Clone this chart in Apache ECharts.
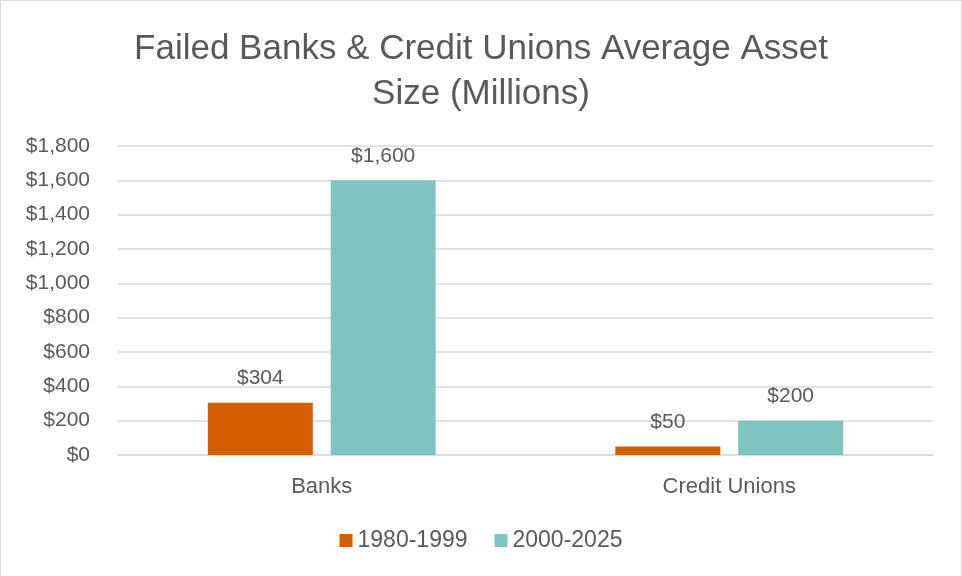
<!DOCTYPE html>
<html>
<head>
<meta charset="utf-8">
<script src="https://cdn.jsdelivr.net/npm/echarts@6/dist/echarts.min.js"></script>
<style>
  html, body { margin: 0; padding: 0; background: #fff; }
  #chart { width: 962px; height: 576px; box-sizing: border-box; border: 1px solid #d9d9d9; border-bottom: none; }
</style>
</head>
<body>
<div id="chart"></div>
<script>
// Average asset size of failed institutions, in millions of dollars
const categories = ['Banks', 'Credit Unions'];
const seriesNames = ['1980-1999', '2000-2025'];
const values1980 = [304, 50];
const values2000 = [1600, 200];
const colors = ['#D55E00', '#80C4C2'];

const money = v => '$' + Number(v).toLocaleString('en-US');
const textColor = '#595959';
const font = 'Liberation Sans, Arial, sans-serif';

const chart = echarts.init(document.getElementById('chart'), null, { renderer: 'canvas' });

const labelStyle = {
  show: true,
  position: 'top',
  distance: 14,
  color: textColor,
  fontSize: 21,
  fontFamily: font,
  formatter: p => money(p.value)
};

chart.setOption({
  animation: false,
  backgroundColor: '#fff',
  title: {
    text: 'Failed Banks & Credit Unions Average Asset\nSize (Millions)',
    left: 'center',
    top: 21,
    textStyle: {
      color: textColor,
      fontSize: 35,
      fontWeight: 'normal',
      fontFamily: font,
      lineHeight: 45
    }
  },
  legend: {
    data: seriesNames,
    bottom: 19,
    left: 'center',
    itemWidth: 13,
    itemHeight: 13,
    itemGap: 27,
    icon: 'rect',
    textStyle: { color: textColor, fontSize: 23, fontFamily: font }
  },
  grid: { left: 117, right: 28, top: 145, bottom: 121, containLabel: false },
  xAxis: {
    type: 'category',
    data: categories,
    axisLine: { lineStyle: { color: '#d9d9d9', width: 1.5 } },
    axisTick: { show: false },
    axisLabel: { color: textColor, fontSize: 22, fontFamily: font, margin: 21 }
  },
  yAxis: {
    type: 'value',
    min: 0,
    max: 1800,
    interval: 200,
    axisLine: { show: false },
    axisTick: { show: false },
    splitLine: { lineStyle: { color: '#d9d9d9', width: 1.5 } },
    axisLabel: { color: textColor, fontSize: 21, fontFamily: font, margin: 28, formatter: money }
  },
  series: [
    {
      name: seriesNames[0],
      type: 'bar',
      data: values1980,
      barWidth: 105,
      barGap: '17%',
      itemStyle: { color: colors[0] },
      label: labelStyle
    },
    {
      name: seriesNames[1],
      type: 'bar',
      data: values2000,
      barWidth: 105,
      barGap: '17%',
      itemStyle: { color: colors[1] },
      label: labelStyle
    }
  ]
});
</script>
</body>
</html>
